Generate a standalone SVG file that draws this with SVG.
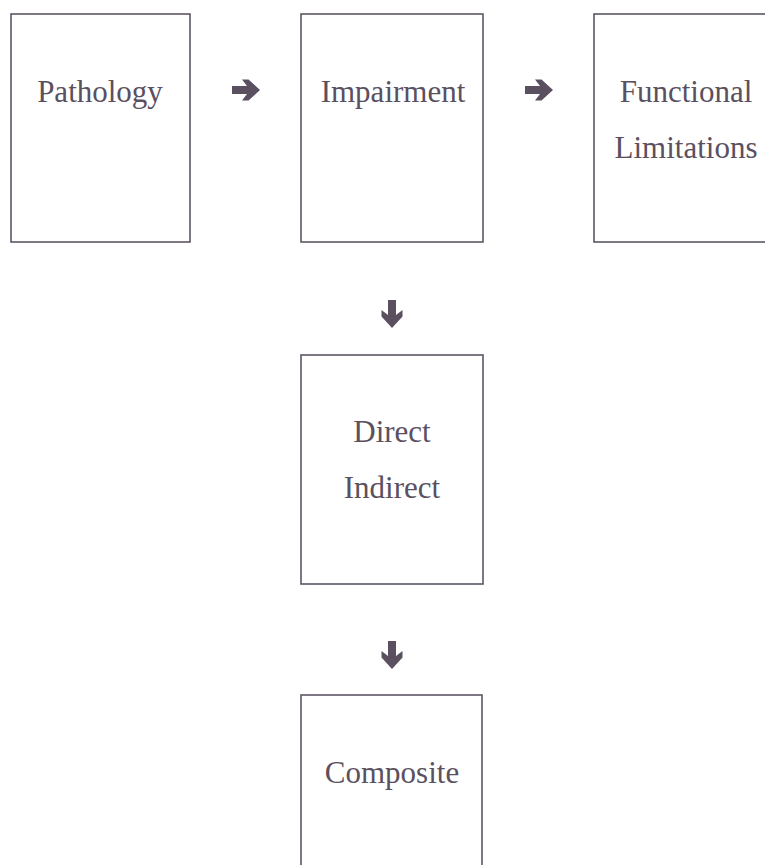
<svg xmlns="http://www.w3.org/2000/svg" width="765" height="865" viewBox="0 0 765 865">
<style>
.box{fill:#fff;stroke:#5e5666;stroke-width:1.6}
.lbl{font-family:"Liberation Serif","Times New Roman",serif;font-size:31px;fill:#5a5060;text-anchor:middle}
.arr{fill:#5a5060}
</style>
<defs>
<path id="ar" d="M-14,-4 L1,-4 L-4,-10.5 L2.5,-10.5 L14,0 L2.5,10.5 L-4,10.5 L1,4 L-14,4 Z"/>
</defs>
<rect width="765" height="865" fill="#fff"/>
<g id="pathology"><rect class="box" x="11" y="14" width="179" height="228"/><text class="lbl" x="100" y="102">Pathology</text></g>
<g id="impairment"><rect class="box" x="301" y="14" width="182" height="228"/><text class="lbl" x="393" y="102">Impairment</text></g>
<g id="functional"><rect class="box" x="594" y="14" width="190" height="228"/><text class="lbl" x="686" y="102">Functional</text><text class="lbl" x="686" y="158">Limitations</text></g>
<g id="direct"><rect class="box" x="301" y="355" width="182" height="229"/><text class="lbl" x="392" y="442">Direct</text><text class="lbl" x="392" y="498">Indirect</text></g>
<g id="composite"><rect class="box" x="301" y="695" width="181" height="190"/><text class="lbl" x="392" y="783">Composite</text></g>
<g id="connectors">
<use href="#ar" class="arr" transform="translate(246,90)"/>
<use href="#ar" class="arr" transform="translate(539,90)"/>
<use href="#ar" class="arr" transform="translate(392,314) rotate(90)"/>
<use href="#ar" class="arr" transform="translate(392,655) rotate(90)"/>
</g>
</svg>
